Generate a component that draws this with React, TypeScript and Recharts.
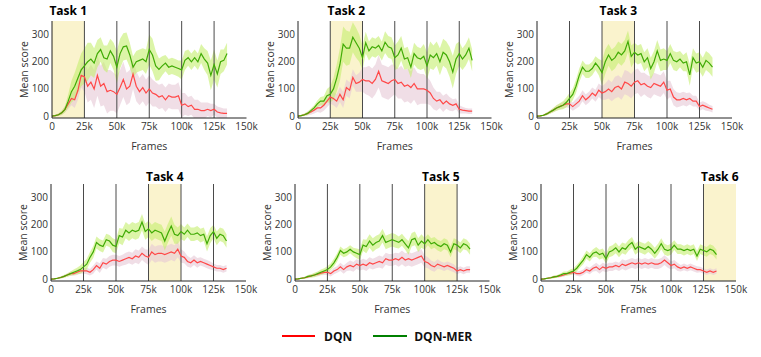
import { ComposedChart, Area, Line, XAxis, YAxis, ReferenceArea, ReferenceLine } from "recharts";

// frames, in thousands
const FRAMES_K = [
  0, 2.5, 5, 7.5, 10, 12.5, 15, 17.5, 20, 22.5, 25,
  27.5, 30, 32.5, 35, 37.5, 40, 42.5, 45, 47.5, 50, 52.5,
  55, 57.5, 60, 62.5, 65, 67.5, 70, 72.5, 75, 77.5, 80,
  82.5, 85, 87.5, 90, 92.5, 95, 97.5, 100, 102.5, 105, 107.5,
  110, 112.5, 115, 117.5, 120, 122.5, 125, 127.5, 130, 132.5, 135,
];

const TASKS = ["Task 1", "Task 2", "Task 3", "Task 4", "Task 5", "Task 6"];
const TASK_EDGES = [0, 25000, 50000, 75000, 100000, 125000, 150000];
const BOUNDARIES = [25000, 50000, 75000, 100000, 125000];
const X_TICKS = [0, 25000, 50000, 75000, 100000, 125000, 150000];
const Y_TICKS = [0, 100, 200, 300];

// ---- Task 1
const MER_T1 = [
  0, 2, 5, 12, 25, 55, 90, 110, 140, 170, 185,
  200, 210, 195, 230, 245, 215, 210, 240, 220, 180, 230,
  255, 258, 225, 180, 200, 205, 210, 200, 245, 225, 185,
  172, 185, 195, 180, 185, 180, 175, 170, 205, 215, 200,
  215, 200, 230, 210, 195, 150, 190, 155, 200, 205, 230,
];
const MER_T1_SD = [
  0, 3, 5, 8, 12, 25, 40, 50, 55, 60, 65,
  70, 60, 55, 50, 45, 45, 50, 45, 50, 60, 55,
  50, 50, 45, 40, 40, 40, 40, 45, 55, 60, 55,
  40, 35, 30, 30, 30, 30, 30, 35, 35, 30, 30,
  30, 30, 35, 40, 45, 55, 55, 50, 45, 40, 40,
];
const DQN_T1 = [
  0, 2, 5, 12, 25, 45, 65, 60, 95, 150, 145,
  110, 125, 100, 150, 110, 120, 90, 95, 90, 80, 105,
  135, 100, 110, 155, 110, 90, 105, 85, 100, 85, 80,
  70, 75, 60, 75, 70, 70, 75, 40, 45, 35, 40,
  25, 25, 20, 20, 25, 20, 25, 15, 12, 10, 10,
];
const DQN_T1_SD = [
  0, 3, 5, 8, 12, 20, 25, 30, 35, 45, 55,
  60, 65, 70, 75, 75, 80, 80, 75, 70, 70, 65,
  65, 60, 60, 55, 55, 50, 50, 50, 50, 50, 45,
  45, 45, 45, 45, 45, 45, 50, 45, 40, 35, 35,
  35, 35, 30, 30, 25, 25, 20, 20, 20, 18, 18,
];

// ---- Task 2
const MER_T2 = [
  0, 2, 5, 10, 20, 30, 45, 55, 55, 75, 80,
  100, 140, 190, 265, 250, 250, 290, 270, 250, 215, 270,
  240, 255, 250, 260, 240, 272, 255, 250, 215, 225, 250,
  210, 215, 180, 230, 215, 210, 220, 185, 225, 215, 230,
  200, 235, 225, 200, 162, 210, 230, 210, 225, 250, 205,
];
const MER_T2_SD = [
  0, 3, 5, 6, 8, 10, 12, 15, 18, 25, 30,
  40, 50, 60, 65, 65, 60, 55, 55, 50, 45, 40,
  35, 35, 35, 35, 35, 40, 40, 40, 45, 50, 45,
  40, 40, 40, 40, 40, 40, 45, 50, 50, 45, 45,
  50, 50, 50, 55, 60, 55, 45, 40, 40, 40, 40,
];
const DQN_T2 = [
  0, 2, 5, 10, 15, 22, 30, 30, 40, 55, 70,
  65, 55, 80, 60, 105, 95, 142, 120, 125, 135, 130,
  130, 120, 135, 165, 130, 125, 120, 130, 135, 120, 125,
  110, 115, 105, 120, 100, 100, 100, 95, 85, 65, 55,
  60, 45, 55, 45, 40, 45, 25, 22, 20, 18, 18,
];
const DQN_T2_SD = [
  0, 3, 5, 8, 10, 12, 15, 18, 20, 22, 25,
  25, 25, 28, 30, 30, 30, 30, 30, 35, 45, 50,
  55, 55, 55, 60, 60, 60, 60, 60, 55, 55, 60,
  60, 60, 60, 60, 60, 55, 55, 50, 45, 40, 35,
  30, 30, 28, 25, 22, 20, 15, 12, 10, 10, 10,
];

// ---- Task 3
const MER_T3 = [
  0, 1, 3, 8, 15, 22, 30, 35, 40, 50, 65,
  80, 110, 150, 180, 165, 165, 175, 195, 180, 160, 200,
  225, 205, 215, 235, 225, 240, 275, 220, 235, 225, 230,
  200, 215, 175, 200, 240, 205, 210, 205, 230, 205, 200,
  210, 195, 200, 152, 215, 195, 200, 180, 205, 195, 180,
];
const MER_T3_SD = [
  0, 2, 3, 5, 6, 8, 10, 12, 15, 18, 20,
  22, 25, 25, 25, 25, 25, 25, 25, 30, 45, 45,
  40, 40, 40, 40, 40, 40, 40, 40, 35, 35, 35,
  35, 35, 40, 40, 40, 40, 40, 35, 35, 35, 35,
  30, 30, 35, 40, 35, 35, 35, 35, 35, 35, 35,
];
const DQN_T3 = [
  0, 1, 3, 8, 15, 22, 30, 35, 40, 45, 45,
  35, 45, 55, 75, 60, 70, 85, 75, 95, 85, 90,
  100, 90, 105, 110, 100, 125, 120, 110, 125, 130, 115,
  120, 110, 105, 120, 115, 110, 125, 95, 100, 70, 60,
  60, 65, 60, 65, 55, 55, 35, 40, 35, 30, 25,
];
const DQN_T3_SD = [
  0, 2, 3, 5, 6, 8, 10, 10, 12, 12, 15,
  15, 18, 20, 20, 20, 20, 20, 22, 25, 25, 30,
  35, 35, 40, 40, 40, 45, 45, 45, 45, 45, 45,
  40, 40, 40, 40, 40, 40, 40, 35, 30, 30, 28,
  25, 25, 25, 22, 20, 20, 15, 15, 15, 12, 12,
];

// ---- Task 4
const MER_T4 = [
  0, 1, 3, 6, 10, 15, 20, 25, 30, 35, 45,
  55, 80, 100, 135, 125, 120, 145, 140, 125, 120, 160,
  155, 180, 170, 180, 175, 180, 210, 175, 185, 170, 180,
  175, 170, 140, 170, 195, 165, 160, 175, 165, 180, 165,
  165, 170, 160, 165, 130, 160, 175, 150, 165, 160, 140,
];
const MER_T4_SD = [
  0, 2, 3, 4, 5, 6, 8, 10, 12, 15, 18,
  20, 20, 22, 22, 22, 22, 22, 22, 25, 25, 28,
  30, 30, 30, 30, 30, 30, 30, 30, 30, 30, 30,
  30, 30, 35, 35, 35, 35, 30, 28, 25, 25, 25,
  25, 25, 25, 25, 28, 28, 25, 25, 25, 25, 25,
];
const DQN_T4 = [
  0, 1, 3, 6, 10, 15, 20, 20, 25, 30, 30,
  30, 25, 35, 50, 40, 60, 55, 65, 70, 70, 65,
  70, 75, 80, 75, 85, 80, 95, 85, 80, 100, 90,
  95, 95, 90, 95, 100, 95, 110, 85, 80, 65, 60,
  70, 60, 65, 60, 55, 50, 45, 40, 40, 35, 40,
];
const DQN_T4_SD = [
  0, 2, 3, 4, 5, 6, 8, 8, 10, 10, 10,
  12, 12, 15, 15, 18, 18, 20, 20, 20, 20, 20,
  20, 22, 22, 22, 25, 25, 25, 25, 28, 30, 30,
  30, 30, 30, 30, 30, 30, 30, 25, 22, 20, 18,
  18, 18, 15, 15, 15, 15, 12, 12, 12, 12, 12,
];

// ---- Task 5
const MER_T5 = [
  0, 1, 3, 5, 10, 12, 15, 20, 25, 30, 35,
  45, 60, 80, 105, 95, 100, 110, 100, 95, 90, 125,
  120, 140, 125, 135, 140, 160, 135, 140, 145, 140, 135,
  145, 130, 115, 145, 150, 125, 140, 130, 145, 130, 135,
  125, 120, 130, 125, 100, 130, 125, 115, 130, 125, 110,
];
const MER_T5_SD = [
  0, 2, 3, 4, 5, 6, 8, 8, 10, 10, 12,
  12, 15, 15, 15, 15, 15, 15, 15, 18, 20, 22,
  25, 25, 25, 25, 25, 25, 25, 25, 25, 25, 22,
  22, 22, 25, 25, 25, 25, 25, 22, 20, 20, 20,
  20, 20, 20, 20, 20, 20, 20, 20, 20, 20, 20,
];
const DQN_T5 = [
  0, 1, 3, 5, 8, 12, 15, 18, 22, 25, 25,
  20, 30, 35, 45, 35, 45, 50, 45, 55, 50, 55,
  50, 60, 55, 60, 65, 60, 75, 70, 70, 75, 70,
  80, 70, 75, 70, 75, 80, 85, 65, 60, 50, 45,
  55, 50, 45, 50, 45, 40, 30, 35, 30, 35, 35,
];
const DQN_T5_SD = [
  0, 2, 3, 4, 5, 6, 6, 8, 8, 10, 10,
  10, 12, 12, 15, 15, 15, 18, 18, 18, 18, 20,
  20, 20, 20, 20, 22, 22, 22, 22, 22, 22, 25,
  25, 25, 25, 25, 25, 25, 25, 22, 20, 18, 18,
  18, 15, 15, 15, 15, 15, 12, 12, 12, 12, 12,
];

// ---- Task 6
const MER_T6 = [
  0, 1, 3, 5, 8, 10, 15, 20, 20, 25, 30,
  40, 55, 70, 90, 80, 95, 100, 90, 95, 75, 100,
  105, 115, 100, 115, 110, 125, 135, 110, 120, 115, 110,
  120, 110, 95, 110, 130, 110, 105, 110, 125, 110, 110,
  105, 110, 105, 110, 85, 110, 105, 100, 110, 105, 90,
];
const MER_T6_SD = [
  0, 2, 3, 4, 5, 5, 6, 8, 8, 10, 10,
  12, 12, 15, 15, 15, 15, 18, 18, 18, 18, 20,
  20, 20, 20, 20, 20, 20, 20, 20, 20, 20, 20,
  20, 20, 20, 20, 20, 20, 20, 20, 18, 18, 18,
  18, 18, 18, 18, 18, 18, 18, 18, 18, 18, 18,
];
const DQN_T6 = [
  0, 1, 3, 5, 8, 10, 12, 15, 20, 22, 25,
  20, 20, 25, 35, 30, 40, 45, 35, 45, 40, 45,
  45, 50, 45, 55, 50, 55, 60, 55, 60, 55, 60,
  55, 60, 55, 55, 60, 70, 60, 50, 55, 45, 40,
  45, 40, 45, 40, 35, 35, 30, 25, 30, 25, 30,
];
const DQN_T6_SD = [
  0, 2, 2, 3, 4, 5, 5, 6, 6, 8, 8,
  8, 10, 10, 12, 12, 12, 15, 15, 15, 15, 15,
  15, 15, 15, 18, 18, 18, 18, 18, 18, 18, 18,
  18, 18, 18, 18, 18, 18, 18, 15, 15, 15, 12,
  12, 12, 12, 12, 12, 10, 10, 10, 10, 10, 10,
];

const MER = [MER_T1, MER_T2, MER_T3, MER_T4, MER_T5, MER_T6];
const MER_SD = [MER_T1_SD, MER_T2_SD, MER_T3_SD, MER_T4_SD, MER_T5_SD, MER_T6_SD];
const DQN = [DQN_T1, DQN_T2, DQN_T3, DQN_T4, DQN_T5, DQN_T6];
const DQN_SD = [DQN_T1_SD, DQN_T2_SD, DQN_T3_SD, DQN_T4_SD, DQN_T5_SD, DQN_T6_SD];

// layout: page coords of each plot's left edge / top, and plot width
const LAYOUT = [
  { left: 51.5, top: 21, w: 194.5, titleOff: 6.5 },
  { left: 297.5, top: 21, w: 193.5, titleOff: 6.5 },
  { left: 536.5, top: 21, w: 195, titleOff: 6.5 },
  { left: 50.5, top: 184, w: 195, titleOff: 3 },
  { left: 294.5, top: 184, w: 194.5, titleOff: 3 },
  { left: 540.5, top: 184, w: 195, titleOff: 3 },
];

const AXIS_W = 51;
const PLOT_H = 97;
const XAXIS_H = 38;

const C = {
  merLine: "#40ab05",
  merBand: "#c4ee6e",
  dqnLine: "#ff4848",
  dqnBand: "#e6c8d5",
  task: "#faf3cd",
  edge: "#4a4a4a",
  axis: "#222",
  text: "#333",
};

const yLabel = ({ viewBox }: any) => {
  const vb = viewBox ?? { x: 0, y: 21, width: AXIS_W, height: PLOT_H };
  const cx = vb.x + vb.width - 28;
  const cy = vb.y + vb.height / 2;
  return (
    <text x={cx} y={cy} transform={`rotate(-90 ${cx} ${cy})`} textAnchor="middle"
      dominantBaseline="central" fontSize={10.5} fill={C.text}>
      Mean score
    </text>
  );
};

function Panel({ i }: { i: number }) {
  const p = LAYOUT[i];
  const data = FRAMES_K.map((f, j) => ({
    x: f * 1000,
    mer: MER[i][j],
    merBand: [MER[i][j] - MER_SD[i][j], MER[i][j] + MER_SD[i][j]],
    dqn: DQN[i][j],
    dqnBand: [DQN[i][j] - DQN_SD[i][j], DQN[i][j] + DQN_SD[i][j]],
  }));
  const width = AXIS_W + p.w + 14;
  const height = 21 + PLOT_H + XAXIS_H + 4;
  return (
    <div style={{ position: "absolute", left: p.left - AXIS_W, top: p.top - 21 }}>
      <ComposedChart width={width} height={height} data={data}
        margin={{ top: 21, right: 14, bottom: 4, left: 0 }}>
        <XAxis type="number" dataKey="x" domain={[0, 150000]} ticks={X_TICKS}
          tickFormatter={(v) => (v === 0 ? "0" : `${v / 1000}k`)}
          height={XAXIS_H} tickLine={false} tickSize={4} tickMargin={1}
          axisLine={{ stroke: C.axis }} tick={{ fontSize: 10, fill: C.text }}
          label={{ value: "Frames", position: "insideBottom", offset: 6, fontSize: 10.5, fill: C.text }} />
        <YAxis type="number" domain={[-7, 350]} ticks={Y_TICKS} width={AXIS_W}
          allowDataOverflow tickLine={false} tickSize={2} tickMargin={1}
          axisLine={{ stroke: C.axis }} tick={{ fontSize: 10, fill: C.text }}
          label={yLabel} />
        <ReferenceArea x1={TASK_EDGES[i]} x2={TASK_EDGES[i + 1]} fill={C.task} fillOpacity={1}
          stroke="none"
          label={{ value: TASKS[i], position: "top", offset: p.titleOff, fill: "#000", fontSize: 12, fontWeight: 700 }} />
        <Area type="linear" dataKey="dqnBand" stroke="none" fill={C.dqnBand} fillOpacity={0.6}
          isAnimationActive={false} activeDot={false} />
        <Area type="linear" dataKey="merBand" stroke="none" fill={C.merBand} fillOpacity={0.6}
          isAnimationActive={false} activeDot={false} />
        {BOUNDARIES.map((b) => (
          <ReferenceLine key={b} x={b} stroke={C.edge} strokeWidth={1} />
        ))}
        <Line type="linear" dataKey="dqn" stroke={C.dqnLine} strokeWidth={1.2} dot={false}
          isAnimationActive={false} />
        <Line type="linear" dataKey="mer" stroke={C.merLine} strokeWidth={1.2} dot={false}
          isAnimationActive={false} />
      </ComposedChart>
    </div>
  );
}

export default function App() {
  return (
    <div style={{ position: "absolute", left: 0, top: 0, width: 761, height: 357, background: "#fff",
      fontFamily: "'Open Sans', sans-serif" }}>
      {TASKS.map((_, i) => <Panel key={i} i={i} />)}
      <div style={{ position: "absolute", left: 282, top: 327, height: 18, display: "flex", alignItems: "center",
        fontSize: 12, fontWeight: 700, color: "#111" }}>
        <svg width={33} height={4} style={{ marginRight: 9 }}>
          <line x1={0} y1={2} x2={33} y2={2} stroke="#ff0000" strokeWidth={2} />
        </svg>
        <span style={{ marginRight: 21 }}>DQN</span>
        <svg width={34} height={4} style={{ marginRight: 7 }}>
          <line x1={0} y1={2} x2={34} y2={2} stroke="#008000" strokeWidth={2} />
        </svg>
        <span>DQN-MER</span>
      </div>
    </div>
  );
}
